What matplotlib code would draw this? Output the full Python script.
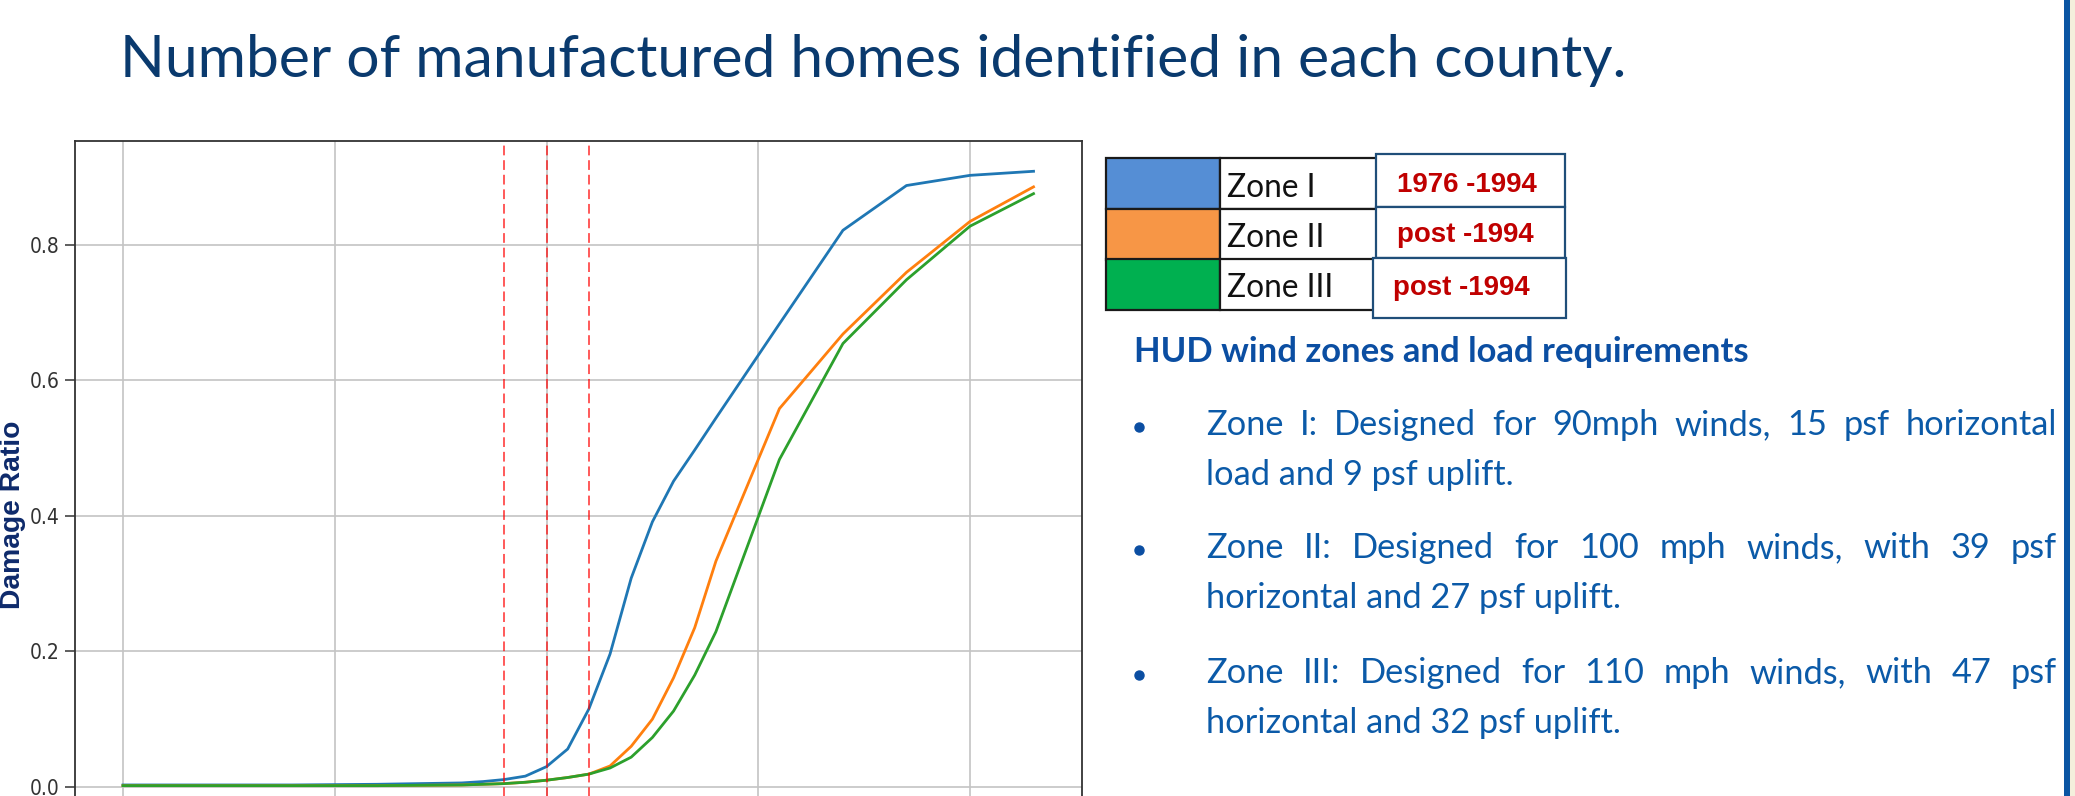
import matplotlib
matplotlib.use('Agg')
import matplotlib.pyplot as plt
from matplotlib.patches import Rectangle
from matplotlib.lines import Line2D

W, H = 2075, 796

# ---------------- data ----------------
wind_speed = [0, 20, 40, 60, 80, 85, 90, 95, 100, 105, 110, 115, 120, 125, 130, 135, 140, 155, 170, 185, 200, 215]
zone1_damage = [0.003, 0.003, 0.003, 0.004, 0.006, 0.008, 0.011, 0.016, 0.030, 0.056, 0.115, 0.196, 0.308, 0.391,
                0.451, 0.497, 0.544, 0.683, 0.821, 0.887, 0.902, 0.908]
zone2_damage = [0.002, 0.002, 0.002, 0.002, 0.003, 0.004, 0.005, 0.007, 0.010, 0.014, 0.019, 0.031, 0.060, 0.100,
                0.161, 0.235, 0.333, 0.558, 0.668, 0.759, 0.834, 0.885]
zone3_damage = [0.002, 0.002, 0.002, 0.002, 0.003, 0.004, 0.005, 0.007, 0.010, 0.014, 0.019, 0.028, 0.044, 0.073,
                0.112, 0.165, 0.229, 0.483, 0.654, 0.748, 0.827, 0.875]
design_speeds = [90, 100, 110]
x_ticks = [0, 50, 100, 150, 200]
y_ticks = [0.0, 0.2, 0.4, 0.6, 0.8]
y_tick_labels = ["0.0", "0.2", "0.4", "0.6", "0.8"]

title_text = "Number of manufactured homes identified in each county."
ylabel_text = "Damage Ratio"
zone_names = ["Zone I", "Zone II", "Zone III"]
zone_periods = ["1976 -1994", "post -1994", "post -1994"]
zone_swatch_colors = ["#558ED5", "#F79646", "#00B050"]
heading_text = "HUD wind zones and load requirements"
paragraphs = [
    ("Zone I: Designed for 90mph winds, 15 psf horizontal", "load and 9 psf uplift."),
    ("Zone II: Designed for 100 mph winds, with 39 psf", "horizontal and 27 psf uplift."),
    ("Zone III: Designed for 110 mph winds, with 47 psf", "horizontal and 32 psf uplift."),
]

# ---------------- figure ----------------
fig = plt.figure(figsize=(W / 100, H / 100), dpi=100)
fig.patch.set_facecolor("white")
renderer = fig.canvas.get_renderer()


def fx(x):
    return x / W


def fy(y):
    return 1 - y / H


def fit(t, target, use_height=False):
    for _ in range(2):
        bb = t.get_window_extent(renderer)
        cur = bb.height if use_height else bb.width
        t.set_fontsize(t.get_fontsize() * target / cur)


# axes geometry (pixels)
ax_left, ax_right, ax_top = 75, 1082, 141
zero_px, px_per_unit = 787, 678.1
ylim = (-0.045, (zero_px - ax_top) / px_per_unit)
ax_bottom = zero_px - ylim[0] * px_per_unit
x0_px, px_per_mph = 123, 4.235
xlim = ((ax_left - x0_px) / px_per_mph, (ax_right - x0_px) / px_per_mph)

ax = fig.add_axes([fx(ax_left), fy(ax_bottom), (ax_right - ax_left) / W, (ax_bottom - ax_top) / H])
ax.set_xlim(*xlim)
ax.set_ylim(*ylim)
ax.set_axisbelow(True)
ax.grid(True, color="#c4c4c4", lw=1.2)

ax.plot(wind_speed, zone1_damage, color="#1f77b4", lw=2.0)
ax.plot(wind_speed, zone2_damage, color="#ff7f0e", lw=2.0)
ax.plot(wind_speed, zone3_damage, color="#2ca02c", lw=2.0)
for s in design_speeds:
    ax.axvline(s, color="red", alpha=0.65, lw=1.4, dashes=(5, 2.5))

ax.set_xticks(x_ticks)
ax.set_yticks(y_ticks)
ax.set_yticklabels(y_tick_labels)
ax.tick_params(axis="both", length=7, width=1.1, color="#333333", pad=4,
               labelsize=15, labelcolor="#333333")
ax.tick_params(axis="x", labelbottom=False)
for lab in ax.get_yticklabels():
    lab.set_fontstretch("condensed")
for sp in ax.spines.values():
    sp.set_color("#333333")
    sp.set_linewidth(1.3)

# y label at the very left edge
yl = fig.text(fx(0), fy(515), ylabel_text, rotation=90, ha="left", va="center",
              fontsize=19, fontweight="bold", color="#0E2A6B", family=["Liberation Sans", "DejaVu Sans"])
fit(yl, 189, use_height=True)

# title
tt = fig.text(fx(120), fy(77), title_text, ha="left", va="baseline", fontsize=44,
              color="#0A3A6E", family=["Lato", "DejaVu Sans"])
fit(tt, 1509)

# ---------------- legend table ----------------
row_tops = [158, 209, 259]
row_h = 50.5
sw_l, sw_r, lab_r = 1106, 1220, 1380
for i, c in enumerate(zone_swatch_colors):
    top = row_tops[i]
    fig.add_artist(Rectangle((fx(sw_l), fy(top + row_h)), (sw_r - sw_l) / W, row_h / H,
                             transform=fig.transFigure, facecolor=c, edgecolor="#1a1a1a", lw=1.6))
    fig.add_artist(Rectangle((fx(sw_r), fy(top + row_h)), (lab_r - sw_r) / W, row_h / H,
                             transform=fig.transFigure, facecolor="white", edgecolor="#1a1a1a", lw=1.6))

zone_baselines = [197, 247, 297]
zone_txts = []
for name, yb in zip(zone_names, zone_baselines):
    zone_txts.append(fig.text(fx(1227), fy(yb), name, ha="left", va="baseline", fontsize=24,
                              color="#111111", family=["Lato", "DejaVu Sans"]))
fit(zone_txts[2], 106)
for t in zone_txts[:2]:
    t.set_fontsize(zone_txts[2].get_fontsize())

box_rects = [(1376, 1565, 154, 207), (1376, 1565, 207, 258), (1373, 1566, 258, 318)]
period_baselines = [192, 242, 295]
period_x = [1397, 1397, 1393]
red_txts = []
for (l, r, t, b), txt, yb, xl in zip(box_rects, zone_periods, period_baselines, period_x):
    fig.add_artist(Rectangle((fx(l), fy(b)), (r - l) / W, (b - t) / H, transform=fig.transFigure,
                             facecolor="white", edgecolor="#1F4E79", lw=1.6))
    red_txts.append(fig.text(fx(xl), fy(yb), txt, ha="left", va="baseline", fontsize=20,
                             fontweight="bold", color="#C00000", family=["Liberation Sans", "DejaVu Sans"]))
fit(red_txts[0], 140)
for t in red_txts[1:]:
    t.set_fontsize(red_txts[0].get_fontsize())

# ---------------- heading and bullets ----------------
hd = fig.text(fx(1134), fy(362), heading_text, ha="left", va="baseline", fontsize=22,
              fontweight="bold", color="#0B4EA2", family=["Lato", "DejaVu Sans"])
fit(hd, 612)

body_color = "#0B5AA8"
body_font = ["Lato", "DejaVu Sans"]
probe = fig.text(0, 0, paragraphs[1][1], fontsize=24, family=body_font)
fit(probe, 415)
body_size = probe.get_fontsize()
probe.remove()

text_l, text_r = 1206, 2057
para_baselines = [(435, 485), (558, 608), (683, 733)]
for (first, second), (b1, b2) in zip(paragraphs, para_baselines):
    words = first.split(" ")
    wts = [fig.text(0, 0, w, ha="left", va="baseline", fontsize=body_size, color=body_color,
                    family=body_font) for w in words]
    widths = [t.get_window_extent(renderer).width for t in wts]
    gap = (text_r - text_l - sum(widths)) / (len(words) - 1)
    x = text_l
    for t, w in zip(wts, widths):
        t.set_position((fx(x), fy(b1)))
        x += w + gap
    fig.text(fx(text_l), fy(b2), second, ha="left", va="baseline", fontsize=body_size,
             color=body_color, family=body_font)
    fig.add_artist(Line2D([fx(1139)], [fy(b1 - 8)], marker="o", ms=6.5, color="#0B4EA2",
                          transform=fig.transFigure))

# right-hand decorative bar
fig.add_artist(Rectangle((fx(2064), 0), 6 / W, 1, transform=fig.transFigure,
                         facecolor="#0B55A3", edgecolor="none"))
fig.add_artist(Rectangle((fx(2070), 0), 5 / W, 1, transform=fig.transFigure,
                         facecolor="#F4EFDC", edgecolor="none"))

fig.savefig("out.png", dpi=100, facecolor="white")
